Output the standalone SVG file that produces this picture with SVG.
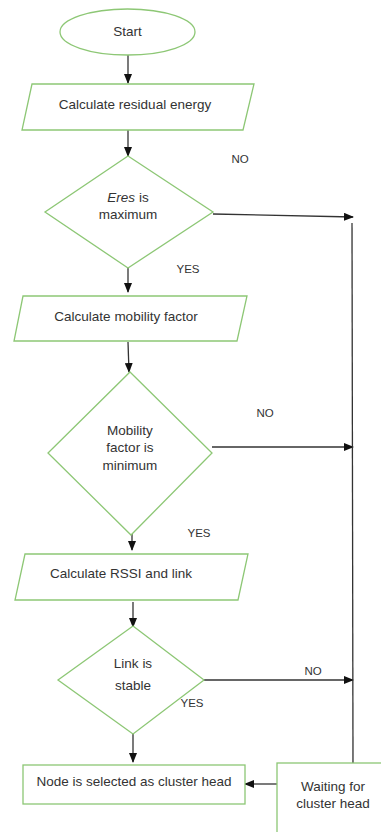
<svg xmlns="http://www.w3.org/2000/svg" width="381" height="832" viewBox="0 0 381 832">
<defs>
<style>
.shape{fill:#fff;stroke:#8dc775;stroke-width:1.3}
.t{font-family:"Liberation Sans",Arial,sans-serif;font-size:13.5px;fill:#333;text-anchor:middle}
.lbl{font-family:"Liberation Sans",Arial,sans-serif;font-size:11.5px;fill:#333;text-anchor:middle}
.c{fill:none;stroke:#333;stroke-width:1.3}
</style>
<marker id="ah" markerWidth="10" markerHeight="8" refX="9" refY="4" orient="auto" markerUnits="userSpaceOnUse">
<path d="M0,0 L10,4 L0,8 Z" fill="#111"/>
</marker>
</defs>
<rect width="381" height="832" fill="#fff"/>
<g id="connectors">
<line class="c" x1="128" y1="55" x2="128" y2="83" marker-end="url(#ah)"/>
<line class="c" x1="128" y1="130" x2="128" y2="156" marker-end="url(#ah)"/>
<line class="c" x1="128" y1="262" x2="128" y2="292" marker-end="url(#ah)"/>
<line class="c" x1="128" y1="342" x2="129" y2="372" marker-end="url(#ah)"/>
<line class="c" x1="132" y1="522" x2="132" y2="550" marker-end="url(#ah)"/>
<line class="c" x1="133" y1="602" x2="133" y2="627" marker-end="url(#ah)"/>
<line class="c" x1="133" y1="734" x2="133" y2="762" marker-end="url(#ah)"/>
<line class="c" x1="213" y1="214" x2="353" y2="217" marker-end="url(#ah)"/>
<line class="c" x1="212" y1="447" x2="353" y2="447" marker-end="url(#ah)"/>
<line class="c" x1="203" y1="680" x2="353" y2="680" marker-end="url(#ah)"/>
<line class="c" x1="352" y1="223" x2="353" y2="763"/>
<line class="c" x1="277" y1="784" x2="245" y2="784" marker-end="url(#ah)"/>
</g>
<g id="start">
<ellipse class="shape" cx="127.5" cy="32" rx="67.5" ry="23"/>
<text class="t" x="127.5" y="36">Start</text>
</g>
<g id="calc-energy">
<polygon class="shape" points="32,84 254,84 243,130 22,130"/>
<text class="t" x="135" y="109">Calculate residual energy</text>
</g>
<g id="eres-max">
<polygon class="shape" points="128,156 213,212 128,268 45,212"/>
<text class="t" x="128" y="202"><tspan font-style="italic">Eres</tspan> is</text>
<text class="t" x="128" y="219">maximum</text>
</g>
<g id="label-no-1"><text class="lbl" x="240" y="163">NO</text></g>
<g id="label-yes-1"><text class="lbl" x="188" y="273" font-size="10">YES</text></g>
<g id="calc-mobility">
<polygon class="shape" points="23,296 247,296 237,341 14,341"/>
<text class="t" x="126" y="321">Calculate mobility factor</text>
</g>
<g id="mobility-min">
<polygon class="shape" points="130,372 212,453 131,535 48,453"/>
<text class="t" x="130" y="435">Mobility</text>
<text class="t" x="130" y="452">factor is</text>
<text class="t" x="130" y="470">minimum</text>
</g>
<g id="label-no-2"><text class="lbl" x="265" y="417">NO</text></g>
<g id="label-yes-2"><text class="lbl" x="199" y="537" font-size="10">YES</text></g>
<g id="calc-rssi">
<polygon class="shape" points="25,554 248,554 238,600 15,600"/>
<text class="t" x="121" y="578">Calculate RSSI and link</text>
</g>
<g id="link-stable">
<polygon class="shape" points="133,626 204,680 133,734 58,680"/>
<text class="t" x="133" y="668">Link is</text>
<text class="t" x="133" y="690">stable</text>
</g>
<g id="label-no-3"><text class="lbl" x="313" y="675">NO</text></g>
<g id="label-yes-3"><text class="lbl" x="192" y="707">YES</text></g>
<g id="selected">
<rect class="shape" x="23" y="765" width="222" height="39"/>
<text class="t" x="134" y="786">Node is selected as cluster head</text>
</g>
<g id="waiting">
<rect class="shape" x="277" y="763" width="110" height="80"/>
<text class="t" x="333" y="791">Waiting for</text>
<text class="t" x="333" y="808">cluster head</text>
</g>
</svg>
